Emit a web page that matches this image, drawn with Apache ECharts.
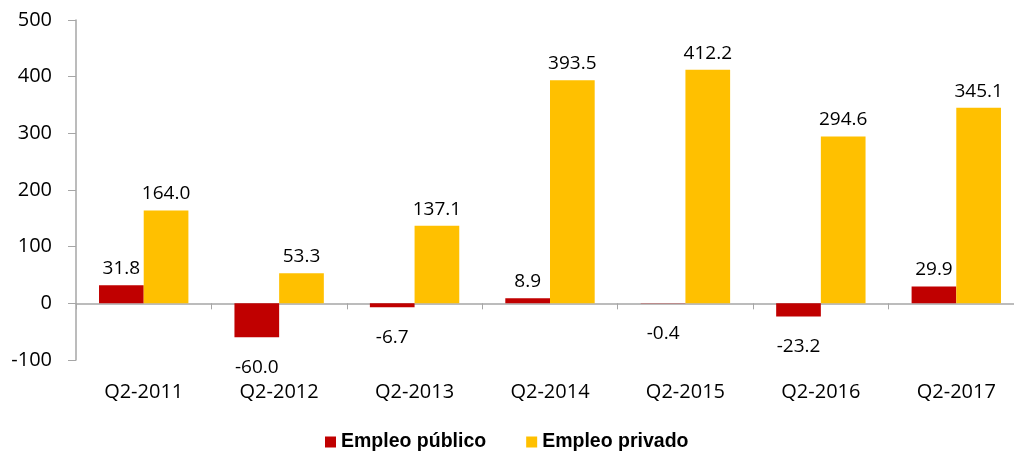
<!DOCTYPE html>
<html>
<head>
<meta charset="utf-8">
<script src="https://cdn.jsdelivr.net/npm/echarts@6/dist/echarts.min.js"></script>
<style>
html,body{margin:0;padding:0;background:#fff;overflow:hidden;}
#main{width:1030px;height:460px;}
</style>
</head>
<body>
<div id="main"></div>
<script>
var categories = ['Q2-2011','Q2-2012','Q2-2013','Q2-2014','Q2-2015','Q2-2016','Q2-2017'];
var publico = [31.8, -60.0, -6.7, 8.9, -0.4, -23.2, 29.9];
var privado = [164.0, 53.3, 137.1, 393.5, 412.2, 294.6, 345.1];
var yTicks = {min: -100, max: 500, interval: 100};

// chart is a bit wider than the window, the last category gets cut like in the original
var chart = echarts.init(document.getElementById('main'));
var font = '"Open Sans", "DejaVu Sans", sans-serif';

function valueLabel(v){
	return {
		show: true,
		position: v < 0 ? 'bottom' : 'top',
		distance: v < 0 ? 21 : 7,
		fontFamily: font,
		fontSize: 19,
		color: '#000',
		formatter: function(p){ return p.value.toFixed(1); }
	};
}

var option = {
	animation: false,
	grid: {left: 76, top: 20, right: 6, bottom: 100, containLabel: false},
	legend: {
		bottom: 3,
		left: 320,
		itemWidth: 11,
		itemHeight: 11,
		itemGap: 40,
		icon: 'rect',
		textStyle: {fontFamily: '"Liberation Sans", Arial, sans-serif', fontWeight: 'bold', fontSize: 19.5, color: '#000'},
		data: ['Empleo público','Empleo privado']
	},
	xAxis: [{
		type: 'category',
		data: categories,
		axisLine: {onZero: true, lineStyle: {color: '#a6a6a6', width: 1.5}},
		axisTick: {show: true, length: 6, lineStyle: {color: '#a6a6a6'}},
		axisLabel: {show: false}
	}, {
		type: 'category',
		data: categories,
		position: 'bottom',
		axisLine: {show: false, onZero: false},
		axisTick: {show: false},
		axisLabel: {margin: 22, fontFamily: font, fontSize: 20, color: '#000'}
	}],
	yAxis: {
		type: 'value',
		min: yTicks.min,
		max: yTicks.max,
		interval: yTicks.interval,
		axisLine: {show: true, lineStyle: {color: '#a6a6a6', width: 1.5}},
		axisTick: {show: true, length: 8, lineStyle: {color: '#a6a6a6'}},
		splitLine: {show: false},
		axisLabel: {margin: 24, fontFamily: font, fontSize: 20, color: '#000'}
	},
	series: [{
		name: 'Empleo público',
		type: 'bar',
		barGap: '0%',
		barCategoryGap: '34%',
		itemStyle: {color: '#c00000'},
		data: publico.map(function(v){ return {value: v, label: valueLabel(v)}; })
	}, {
		name: 'Empleo privado',
		type: 'bar',
		barGap: '0%',
		barCategoryGap: '34%',
		itemStyle: {color: '#ffc000'},
		data: privado.map(function(v){ return {value: v, label: valueLabel(v)}; })
	}]
};
chart.setOption(option);
</script>
</body>
</html>
